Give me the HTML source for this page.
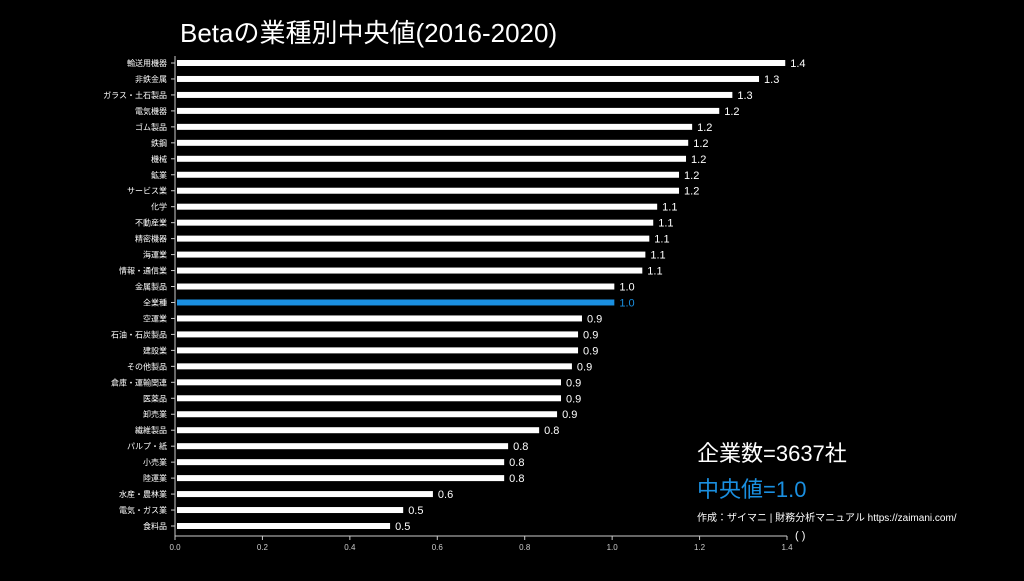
<!DOCTYPE html>
<html><head><meta charset="utf-8"><style>
body{margin:0;background:#000;width:1024px;height:576px;overflow:hidden;font-family:"Liberation Sans","Noto Sans CJK JP",sans-serif}
svg text{font-family:"Liberation Sans","Noto Sans CJK JP",sans-serif}
</style></head><body>
<svg id="chart" width="1024" height="576">
<text x="180" y="42" fill="#fff" font-size="26">Betaの業種別中央値(2016-2020)</text>
<g id="bars"></g>
<line x1="175" y1="56" x2="175" y2="536" stroke="#ccc" stroke-width="1"/>
<line x1="175" y1="536" x2="787" y2="536" stroke="#ccc" stroke-width="1"/>
<g id="xticks"></g>
<text x="795" y="539" fill="#fff" font-size="11">( )</text>
<text x="697" y="461" fill="#fff" font-size="22">企業数=3637社</text>
<text x="697" y="497" fill="#1a8fe0" font-size="22">中央値=1.0</text>
<text x="697" y="521" fill="#fff" font-size="10">作成：ザイマニ | 財務分析マニュアル https://zaimani.com/</text>
</svg>
<script>
const categories=["輸送用機器","非鉄金属","ガラス・土石製品","電気機器","ゴム製品","鉄鋼","機械","鉱業","サービス業","化学","不動産業","精密機器","海運業","情報・通信業","金属製品","全業種","空運業","石油・石炭製品","建設業","その他製品","倉庫・運輸関連","医薬品","卸売業","繊維製品","パルプ・紙","小売業","陸運業","水産・農林業","電気・ガス業","食料品"];
const values=[1.396,1.336,1.275,1.245,1.183,1.174,1.169,1.153,1.153,1.103,1.094,1.085,1.076,1.069,1.005,1.005,0.931,0.922,0.922,0.908,0.883,0.883,0.874,0.833,0.762,0.753,0.753,0.590,0.522,0.492];
const highlight="全業種";
const xTicks=[0,0.2,0.4,0.6,0.8,1.0,1.2,1.4];
const NS="http://www.w3.org/2000/svg";
const x0=175,x1=787,xMax=1.4,yTop=63,yBot=526;
const xs=v=>x0+(x1-x0)*v/xMax;
const ys=i=>yTop+(yBot-yTop)*i/(categories.length-1);
const bars=document.getElementById('bars');
function mk(t,a,p){const e=document.createElementNS(NS,t);for(const k in a)e.setAttribute(k,a[k]);p.appendChild(e);return e;}
categories.forEach((c,i)=>{
 const y=ys(i),col=c===highlight?"#1a8fe0":"#fff";
 const r=mk('rect',{x:x0+2,y:y-3,width:Math.max(0,xs(values[i])-x0-2),height:6,fill:col},bars);
 
 
 const tk=mk('line',{x1:x0-4,x2:x0,y1:y,y2:y,stroke:"#ccc"},bars);
 
 
 const l=mk('text',{x:x0-8,y:y+3,fill:"#fff","font-size":8,"text-anchor":"end"},bars);
 l.textContent=c;
 
 
 const v=mk('text',{x:xs(values[i])+5,y:y+4,fill:col,"font-size":11},bars);
 v.textContent=values[i].toFixed(1);
 
 
});
const xt=document.getElementById('xticks');
xTicks.forEach(t=>{
 const x=xs(t);
 const l=mk('line',{x1:x,x2:x,y1:536,y2:540,stroke:"#ccc"},xt);
 
 
 const tx=mk('text',{x:x,y:550,fill:"#ccc","font-size":8,"text-anchor":"middle"},xt);
 tx.textContent=t.toFixed(1);
 
 
});
</script>
</body></html>
